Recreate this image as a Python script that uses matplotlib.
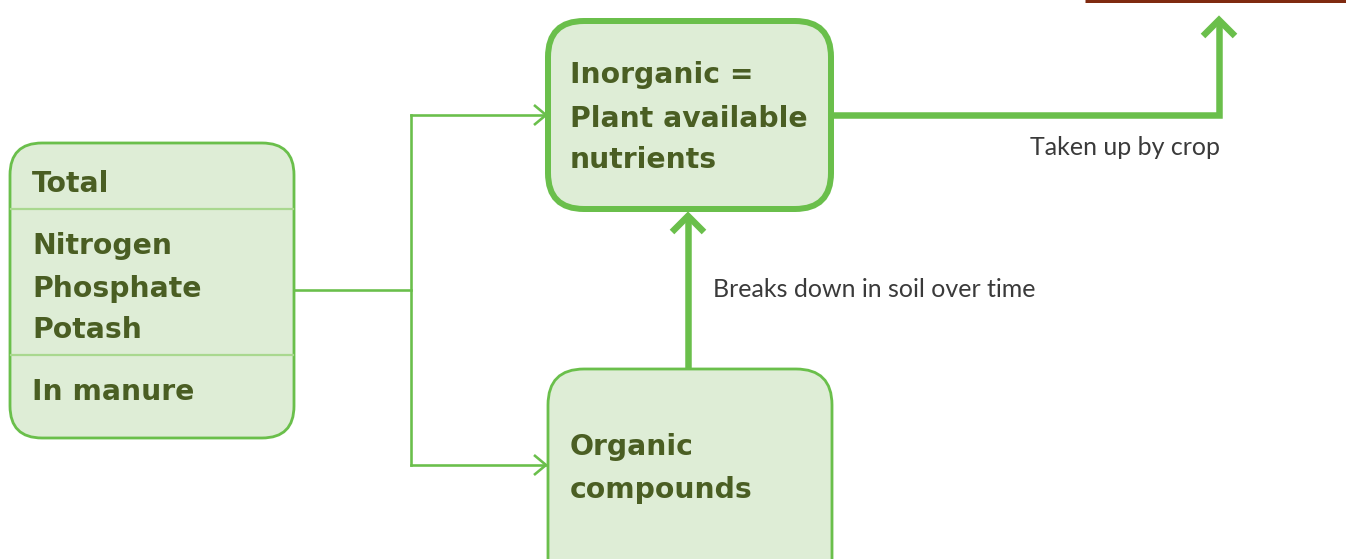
import matplotlib
matplotlib.use("Agg")
import matplotlib.pyplot as plt
from matplotlib.patches import FancyBboxPatch

# ---- content ----
left_lines = ["Total", "Nitrogen", "Phosphate", "Potash", "In manure"]
left_baselines = [192, 254, 297, 338, 400]
top_lines = ["Inorganic =", "Plant available", "nutrients"]
top_baselines = [83, 127, 168]
bottom_lines = ["Organic", "compounds"]
bottom_baselines = [455, 498]
label_crop = "Taken up by crop"
label_soil = "Breaks down in soil over time"

GREEN = "#6abf4b"
LIGHT = "#a9d88f"
FILL = "#deedd6"
TXT = "#4a5e23"
BROWN = "#7f2a10"

W, H = 1346, 559
fig = plt.figure(figsize=(W / 100, H / 100), dpi=100)
ax = fig.add_axes([0, 0, 1, 1])
ax.set_xlim(0, W)
ax.set_ylim(H, 0)
ax.axis("off")

def px(v):
    return v * 0.72

def box(x0, y0, x1, y1, r, lw):
    p = FancyBboxPatch((x0, y0), x1 - x0, y1 - y0,
                       boxstyle=f"round,pad=0,rounding_size={r}",
                       fc=FILL, ec=GREEN, lw=px(lw), zorder=2)
    ax.add_patch(p)

# left box
box(10, 143, 294, 438, 32, 2.8)
for y in (209, 355):
    ax.plot([11, 293], [y, y], color=LIGHT, lw=px(2.2), zorder=3)
# top box
box(548, 21, 831, 209, 36, 6)
# bottom box (clipped by figure edge)
box(548, 369, 832, 600, 36, 2.8)

bold = dict(family="DejaVu Sans", weight="bold", color=TXT, fontsize=20.3,
            va="baseline", zorder=5)
for t, y in zip(left_lines, left_baselines):
    ax.text(32, y, t, **bold)
for t, y in zip(top_lines, top_baselines):
    ax.text(570, y, t, **bold)
for t, y in zip(bottom_lines, bottom_baselines):
    ax.text(570, y, t, **bold)

# thin connectors
tl = px(2.6)
ax.plot([294, 411], [290, 290], color=GREEN, lw=tl, zorder=1)
ax.plot([411, 411], [115, 465], color=GREEN, lw=tl, zorder=1)
ax.plot([411, 546], [115, 115], color=GREEN, lw=tl, zorder=1)
ax.plot([411, 546], [465, 465], color=GREEN, lw=tl, zorder=1)
for y in (115, 465):
    ax.plot([534, 546, 534], [y - 10, y, y + 10], color=GREEN, lw=tl,
            solid_joinstyle="miter", solid_capstyle="butt", zorder=1)

# thick arrows
th = px(6.5)
ax.plot([688, 688], [369, 216], color=GREEN, lw=th, solid_capstyle="butt", zorder=1)
ax.plot([672, 688, 704], [232, 216, 232], color=GREEN, lw=th,
        solid_joinstyle="miter", solid_capstyle="butt", zorder=1)
ax.plot([831, 1219, 1219], [115, 115, 20], color=GREEN, lw=th,
        solid_joinstyle="miter", solid_capstyle="butt", zorder=1)
ax.plot([1203, 1219, 1235], [36, 20, 36], color=GREEN, lw=th,
        solid_joinstyle="miter", solid_capstyle="butt", zorder=1)

# labels
light = dict(family="Lato", weight="normal", color="#3a3a3a", fontsize=18, va="baseline")
ax.text(1030, 155, label_crop, **light)
ax.text(713, 297, label_soil, **light)

# brown rule at top right
ax.plot([1085, W], [1, 1], color=BROWN, lw=px(3), solid_capstyle="butt", zorder=1)

fig.savefig("out.png", dpi=100)
